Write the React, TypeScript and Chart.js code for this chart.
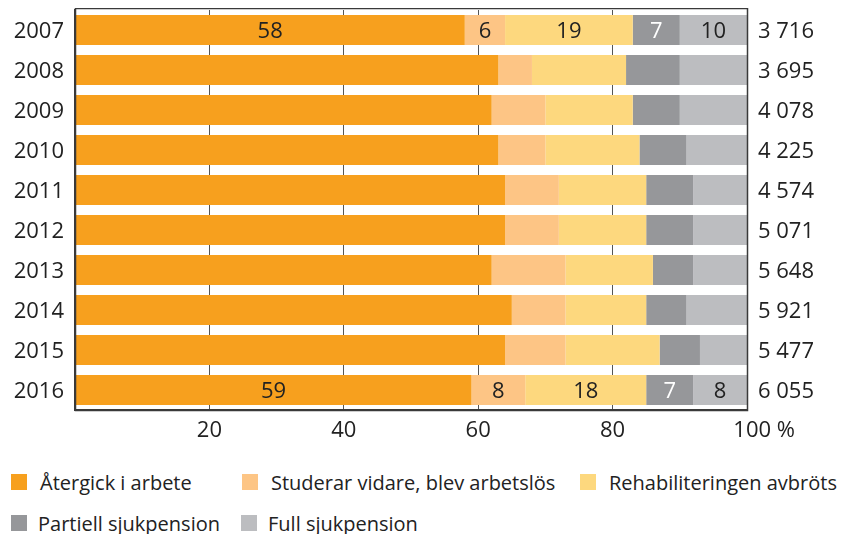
import React, { useEffect, useRef } from 'react';
import { Chart, registerables } from 'chart.js';

Chart.register(...registerables);

const years = ['2007', '2008', '2009', '2010', '2011', '2012', '2013', '2014', '2015', '2016'];
const totals = ['3 716', '3 695', '4 078', '4 225', '4 574', '5 071', '5 648', '5 921', '5 477', '6 055'];

const seriesNames = [
  'Återgick i arbete',
  'Studerar vidare, blev arbetslös',
  'Rehabiliteringen avbröts',
  'Partiell sjukpension',
  'Full sjukpension',
];
const seriesColors = ['#F7A01E', '#FDC585', '#FDD87E', '#96979A', '#BCBDC0'];

const atergick = [58, 63, 62, 63, 64, 64, 62, 65, 64, 59];
const studerar = [6, 5, 8, 7, 8, 8, 11, 8, 9, 8];
const rehab = [19, 14, 13, 14, 13, 13, 13, 12, 14, 18];
const partiell = [7, 8, 7, 7, 7, 7, 6, 6, 6, 7];
const full = [10, 10, 10, 9, 8, 8, 8, 9, 7, 8];

const labeledYears = ['2007', '2016'];
const xTicks = [0, 20, 40, 60, 80, 100];

const FONT = '"Open Sans", sans-serif';

const legendLayout = [
  { row: 0, left: 11 },
  { row: 0, left: 242 },
  { row: 0, left: 580 },
  { row: 1, left: 11 },
  { row: 1, left: 241 },
];

const zeroPad = (scale: any) => {
  scale.paddingTop = 0;
  scale.paddingBottom = 0;
  scale.paddingLeft = 0;
  scale.paddingRight = 0;
};

export default function App() {
  const ref = useRef<HTMLCanvasElement | null>(null);

  useEffect(() => {
    if (!ref.current) return;
    const values = [atergick, studerar, rehab, partiell, full];

    const labelPlugin = {
      id: 'segLabels',
      afterDatasetsDraw(chart: any) {
        const ctx = chart.ctx;
        ctx.save();
        ctx.font = `22px ${FONT}`;
        ctx.textAlign = 'center';
        ctx.textBaseline = 'middle';
        chart.data.datasets.forEach((ds: any, di: number) => {
          const meta = chart.getDatasetMeta(di);
          labeledYears.forEach((yr) => {
            const idx = years.indexOf(yr);
            const el: any = meta.data[idx];
            if (!el) return;
            const cx = (el.x + el.base) / 2;
            ctx.fillStyle = di === 3 ? '#ffffff' : '#222222';
            ctx.fillText(String(ds.data[idx]), cx, el.y + 2);
          });
        });
        ctx.restore();
      },
    };

    const framePlugin = {
      id: 'frame',
      afterDraw(chart: any) {
        const { ctx, chartArea } = chart;
        ctx.save();
        ctx.strokeStyle = '#3a3a3a';
        ctx.lineWidth = 1.5;
        ctx.strokeRect(
          Math.round(chartArea.left) + 0.5,
          Math.round(chartArea.top) - 1.5,
          Math.round(chartArea.right - chartArea.left),
          Math.round(chartArea.bottom - chartArea.top) + 2
        );
        ctx.restore();
      },
    };

    const chart = new Chart(ref.current, {
      type: 'bar',
      data: {
        labels: years,
        datasets: seriesNames.map((name, i) => ({
          label: name,
          data: values[i],
          backgroundColor: seriesColors[i],
          borderWidth: 0,
          barPercentage: 0.75,
          categoryPercentage: 1,
        })),
      },
      options: {
        indexAxis: 'y',
        animation: false,
        responsive: true,
        maintainAspectRatio: false,
        layout: { padding: { top: 2, left: 0, right: 0, bottom: 0 } },
        plugins: {
          legend: { display: false },
          tooltip: { enabled: false },
        },
        scales: {
          x: {
            type: 'linear',
            stacked: true,
            min: 0,
            max: 100,
            afterBuildTicks: (scale: any) => {
              scale.ticks = xTicks.map((v) => ({ value: v }));
            },
            afterFit: (scale: any) => {
              zeroPad(scale);
              scale.height = 34;
            },
            grid: { color: '#555555', lineWidth: 1, drawTicks: false },
            border: { display: true, color: '#3a3a3a', width: 1.5 },
            ticks: {
              padding: 8,
              color: '#222222',
              font: { family: FONT, size: 22 },
              maxRotation: 0,
              autoSkip: false,
              callback: (v: any) => (v === 0 ? '' : v === 100 ? '      100 %' : String(v)),
            },
          },
          y: {
            type: 'category',
            stacked: true,
            grid: { display: false, drawTicks: false },
            border: { display: true, color: '#3a3a3a', width: 1.5 },
            afterFit: (scale: any) => {
              zeroPad(scale);
              scale.width = 67;
            },
            ticks: {
              padding: 11,
              labelOffset: 2,
              color: '#222222',
              font: { family: FONT, size: 22 },
              autoSkip: false,
            },
          },
          y2: {
            type: 'category',
            position: 'right',
            labels: totals,
            offset: true,
            grid: { display: false, drawTicks: false },
            border: { display: false },
            afterFit: (scale: any) => {
              zeroPad(scale);
              scale.width = 91;
            },
            ticks: {
              padding: 11,
              labelOffset: 2,
              color: '#222222',
              font: { family: FONT, size: 22 },
              autoSkip: false,
            },
          },
        },
      },
      plugins: [labelPlugin, framePlugin],
    } as any);

    return () => chart.destroy();
  }, []);

  return (
    <div style={{ width: 830 }}>
      <div style={{ position: 'relative', width: 830, height: 436 }}>
        <canvas ref={ref} />
      </div>
      <div style={{ position: 'relative', width: 830, height: 90, fontFamily: FONT, fontSize: 20, color: '#222222' }}>
        {seriesNames.map((name, i) => (
          <div
            key={name}
            style={{
              position: 'absolute',
              left: legendLayout[i].left - 8,
              top: 26 + legendLayout[i].row * 41,
              height: 24,
              display: 'flex',
              alignItems: 'center',
              whiteSpace: 'nowrap',
            }}
          >
            <span
              style={{
                display: 'inline-block',
                width: 16,
                height: 16,
                background: seriesColors[i],
                marginRight: i >= 3 ? 11 : 13,
              }}
            />
            <span>{name}</span>
          </div>
        ))}
      </div>
    </div>
  );
}
